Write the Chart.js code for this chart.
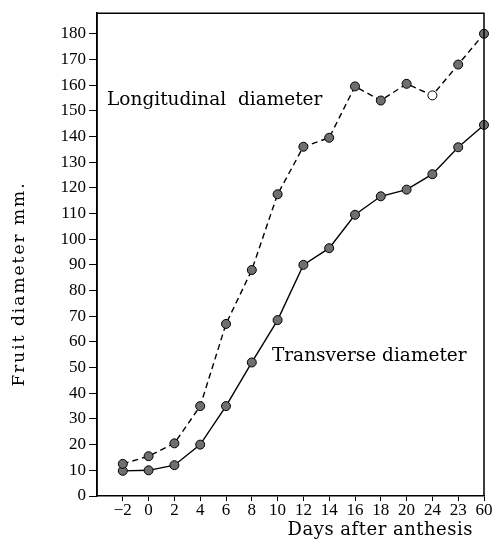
<!DOCTYPE html>
<html><head><meta charset="utf-8">
<script src="https://cdn.jsdelivr.net/npm/chart.js@4"></script>
<style>html,body{margin:0;padding:0;background:#fff}</style>
</head><body>
<canvas id="c" width="501" height="543" style="width:501px;height:543px;display:block"></canvas>
<script>
const days = ['\u22122','0','2','4','6','8','10','12','14','16','18','20','24','23','60'];
const longitudinal = [12.5,15.5,20.5,35,67,88,117.5,136,139.5,159.5,154,160.5,156,168,180];
const transverse = [9.8,10,12,20,35,52,68.5,90,96.5,109.5,116.7,119.3,125.3,135.8,144.5];
const yTickValues = [0,10,20,30,40,50,60,70,80,90,100,110,120,130,140,150,160,170,180];
const openPoints = [12]; // index of the hollow marker on the longitudinal curve
const yTitle = 'Fruit diameter mm.';
const xTitle = 'Days after anthesis';
const notes = [
  {text:'Longitudinal  diameter', x:-0.61, y:154, size:18.5},
  {text:'Transverse diameter', x:5.78, y:54.6, size:18.5}
];

const toXY = arr => arr.map((v,i)=>({x:i,y:v}));
const ptFill = '#6f6f6f';

const framePlugin = {
  id:'frame',
  afterDraw(chart){
    const {ctx, chartArea:a, scales} = chart;
    ctx.save();
    ctx.strokeStyle='#000'; ctx.lineWidth=1.5;
    ctx.beginPath();
    ctx.moveTo(a.left,a.bottom); ctx.lineTo(a.left,a.top); ctx.lineTo(a.right,a.top); ctx.lineTo(a.right,a.bottom);
    ctx.stroke();
    ctx.fillStyle='#000'; ctx.textAlign='left'; ctx.textBaseline='middle';
    notes.forEach(n=>{
      ctx.font = n.size+'px "DejaVu Serif"';
      ctx.fillText(n.text, scales.x.getPixelForValue(n.x), scales.y.getPixelForValue(n.y));
    });
    // y axis title (letter-spaced, as in the print)
    ctx.save();
    ctx.translate(20, 284);
    ctx.rotate(-Math.PI/2);
    ctx.font = '17px "DejaVu Serif"';
    ctx.letterSpacing = '2px';
    ctx.textAlign='center';
    ctx.fillText(yTitle, 0, 0);
    ctx.restore();
    // x axis title
    ctx.font = '18px "DejaVu Serif"';
    ctx.letterSpacing = '0.5px';
    ctx.textAlign='right';
    ctx.fillText(xTitle, 473, 530);
    ctx.restore();
  }
};

new Chart(document.getElementById('c'), {
  type:'line',
  data:{datasets:[
    {label:'Longitudinal diameter', data:toXY(longitudinal), borderColor:'#000', borderWidth:1.4,
     borderDash:[6,4], pointRadius:4.5, pointBorderWidth:1, pointBorderColor:'#000',
     pointBackgroundColor: longitudinal.map((_,i)=>openPoints.includes(i)?'#fff':ptFill), clip:false, tension:0},
    {label:'Transverse diameter', data:toXY(transverse), borderColor:'#000', borderWidth:1.4,
     pointRadius:4.5, pointBorderWidth:1, pointBorderColor:'#000', pointBackgroundColor:ptFill, clip:false, tension:0}
  ]},
  options:{
    responsive:false, animation:false, devicePixelRatio:1,
    layout:{padding:{left:0,right:17,top:10,bottom:0}},
    plugins:{legend:{display:false}, tooltip:{enabled:false}},
    scales:{
      x:{type:'linear', min:-1, max:days.length-1,
        afterBuildTicks(s){ s.ticks = days.map((_,i)=>({value:i})); },
        afterFit(s){ s.height = 47; },
        ticks:{color:'#000', padding:-1, maxRotation:0, autoSkip:false,
          font:{family:'"Liberation Serif"', size:17},
          callback:(v)=>days[v]},
        grid:{drawOnChartArea:false, color:'#000', tickLength:5, tickWidth:1},
        border:{display:true, color:'#000', width:1.5}
      },
      y:{type:'linear', min:0, max:188,
        afterBuildTicks(s){ s.ticks = yTickValues.map(v=>({value:v})); },
        afterFit(s){ s.width = 97; },
        ticks:{color:'#000', padding:3, font:{family:'"Liberation Serif"', size:17}},
        grid:{drawOnChartArea:false, color:'#000', tickLength:8, tickWidth:1},
        border:{display:true, color:'#000', width:1.5}
      }
    }
  },
  plugins:[framePlugin]
});
</script>
</body></html>
